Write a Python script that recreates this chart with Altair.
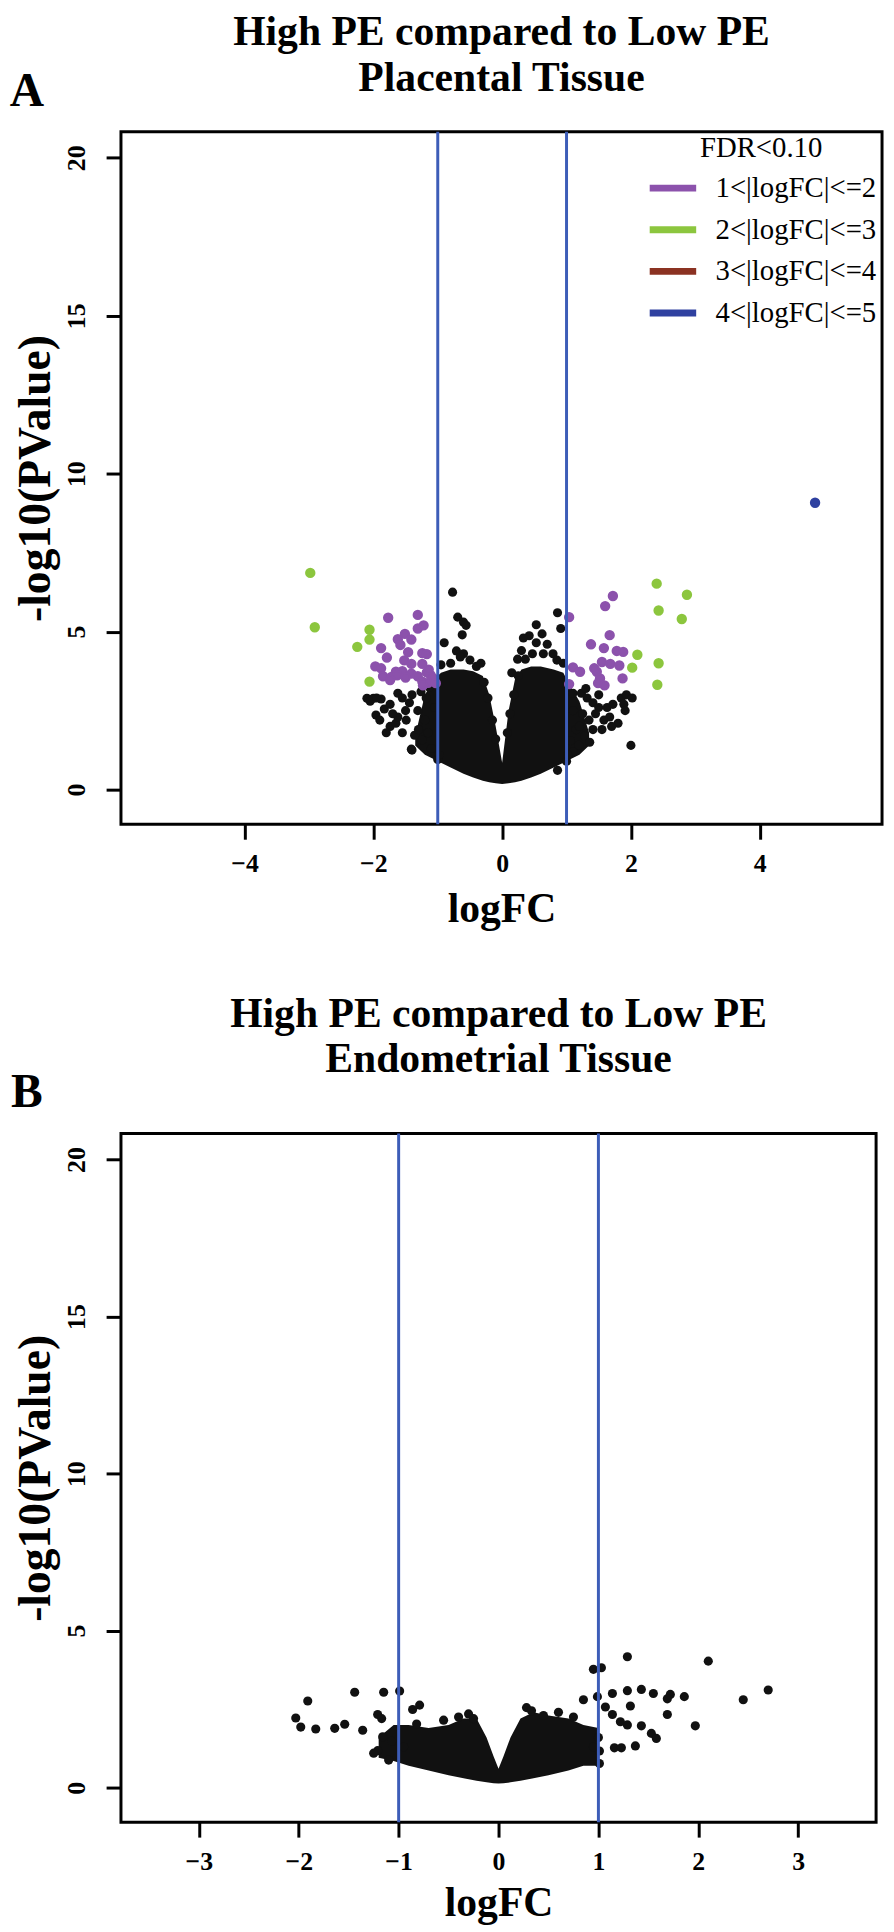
import altair as alt
import pandas as pd

FONT = "Liberation Serif"
CATS = ["1<|logFC|<=2", "2<|logFC|<=3", "3<|logFC|<=4", "4<|logFC|<=5"]
CAT_COLORS = ["#8C52AC", "#8CC63E", "#8B3222", "#2F41A0"]
LINE_BLUE = "#3D5DB8"

# ---------------- Panel A (placental) ----------------
a_purple_x = [-1.77, -1.31, -1.22, -1.31, -1.51, -1.62, -1.41, -1.58, -1.88, -1.46, -1.24, -1.17,
              -1.79, -1.52, -1.41, -1.97, -1.88, -1.24, -1.65, -1.55, -1.85, -1.72, -1.63, -1.41,
              -1.31, -1.17, -1.11, -1.07, -1.24, -1.15, -1.23, -1.03, -1.74, -1.50, -1.14,
              1.04, 1.72, 1.60, 1.67, 1.38, 1.58, 1.78, 1.88, 1.55, 1.68, 1.82, 1.10, 1.47,
              1.52, 1.87, 1.49, 1.59, 1.04, 1.21, 1.43]
a_purple_y = [5.44, 5.53, 5.20, 5.10, 4.93, 4.76, 4.75, 4.58, 4.48, 4.35, 4.32, 4.29,
              4.18, 4.09, 3.98, 3.90, 3.84, 3.98, 3.73, 3.75, 3.59, 3.57, 3.62, 3.67,
              3.59, 3.71, 3.62, 3.52, 3.42, 3.38, 3.30, 3.37, 3.47, 3.55, 3.80,
              5.46, 6.13, 5.81, 4.89, 4.60, 4.48, 4.39, 4.36, 4.04, 3.98, 3.93, 3.87, 3.73,
              3.52, 3.52, 3.37, 3.30, 3.34, 3.73, 3.84]
a_green_x = [-2.98, -2.91, -2.25, -2.06, -2.06, -2.06, 2.40, 2.87, 2.43, 2.79, 2.10, 2.02, 2.43, 2.41]
a_green_y = [6.86, 5.14, 4.52, 5.06, 4.75, 3.42, 6.52, 6.17, 5.67, 5.40, 4.27, 3.86, 4.00, 3.32]
a_blue_x = [4.86]
a_blue_y = [9.08]

a_black_x = [-0.77, -0.69, -0.60, -0.62, -0.56, -0.90, -0.71, -0.60, -0.33, -0.50, -0.80, -0.95, -0.40,
             0.86, 0.91, 0.53, 0.42, 0.33, 0.62, 0.53, 0.47, 0.64, 0.79, 0.24, 0.36, 0.70, 0.85, 0.95, 0.15,
             -2.10, -2.00, -1.88, -1.62, -1.96, -1.83, -1.74, -1.65, -1.55, -1.41, -1.36, -1.24, -1.49,
             -1.31, -1.18, -1.26, -1.13, -1.44, -1.74, -1.62, -1.80, -1.50, -1.40, -1.20, -1.15, -1.30,
             -1.10, -1.05, -1.55, -1.90, -1.70, -2.05, -1.95, -1.40,
             1.10, 1.23, 1.32, 1.41, 1.50, 1.63, 1.67, 1.72, 1.85, 1.93, 2.02, 1.89, 1.91, 1.80, 1.58,
             1.41, 1.28, 1.36, 1.19, 1.06, 1.15, 2.00, 0.86, 1.25, 1.10, 1.35, 1.45, 1.55, 1.70, 1.10,
             1.20, 1.30, 1.50,
             -0.28, -0.22, -0.15, -0.10, 0.08, 0.12, 0.18, 0.25, -1.00, -0.98, 1.00, 1.02, -0.65, 0.30]
a_black_y = [6.25, 5.46, 5.30, 4.90, 5.20, 4.65, 4.39, 4.30, 4.00, 4.10, 4.00, 3.95, 3.90,
             5.60, 5.10, 5.22, 4.87, 4.80, 4.93, 4.65, 4.30, 4.30, 4.30, 4.13, 4.13, 4.60, 4.10, 4.00, 3.70,
             2.89, 2.89, 2.87, 3.05, 2.36, 2.55, 2.00, 2.10, 1.80, 1.28, 1.72, 1.58, 2.20,
             2.50, 2.90, 3.10, 3.24, 2.75, 2.70, 2.30, 1.80, 2.50, 3.00, 2.20, 1.80, 1.90,
             1.30, 2.60, 2.90, 2.20, 2.40, 2.80, 2.90, 1.25,
             3.05, 3.05, 2.90, 2.75, 2.60, 2.60, 2.30, 2.70, 2.90, 3.00, 2.90, 2.70, 2.50, 2.10, 2.20,
             1.90, 1.70, 1.50, 1.40, 1.55, 1.90, 1.40, 0.61, 2.40, 2.50, 2.20, 2.40, 1.90, 2.00, 1.20,
             2.00, 3.20, 3.00,
             3.40, 2.90, 2.20, 1.60, 1.80, 2.40, 3.00, 3.60, 0.95, 1.10, 0.90, 1.10, 4.20, 4.40]

# dense core of the cloud (upper / lower envelope)
a_core_x = [-1.35, -1.2, -1.05, -0.95, -0.8, -0.6, -0.45, -0.3, -0.2, -0.1, 0.0,
            0.1, 0.2, 0.3, 0.45, 0.6, 0.8, 0.95, 1.05, 1.2, 1.35]
a_core_top = [1.7, 3.0, 3.5, 3.7, 3.8, 3.8, 3.75, 3.6, 3.0, 2.0, 0.85,
              2.5, 3.5, 3.8, 3.9, 3.9, 3.8, 3.7, 3.3, 2.8, 1.8]
a_core_bottom = [1.4, 1.1, 0.95, 0.85, 0.7, 0.5, 0.38, 0.28, 0.23, 0.2, 0.18,
                 0.2, 0.23, 0.28, 0.38, 0.5, 0.7, 0.85, 0.95, 1.1, 1.4]

# ---------------- Panel B (endometrial) ----------------
b_black_x = [1.29, 2.10, 0.95, 1.03, 2.70, 2.45, 1.43, 1.29, 1.14, 1.55, 1.72, 1.69, 1.86, 0.99,
             1.32, 1.07, 1.14, 1.22, 1.29, 1.69, 1.97, 1.53, 1.58, 1.43, 1.37, 1.16, 1.23, 1.01, 1.01,
             -2.03, -1.91, -1.83, -1.98, -1.64, -1.54, -1.44, -1.36, -1.15, -0.99, -1.21, -1.17,
             -1.21, -1.10, -0.79, -0.86, -0.82, -1.07, -1.16,
             -0.40, -0.30, -0.25, 0.28, 0.33, 0.45, 0.60, 0.75, 0.85, -0.55, -0.95, 0.95, 1.00, -1.25]
b_black_y = [4.17, 4.03, 3.77, 3.82, 3.11, 2.80, 3.13, 3.09, 3.00, 3.00, 2.97, 2.83, 2.90, 2.90,
             2.60, 2.57, 2.33, 2.10, 2.00, 2.33, 1.97, 1.73, 1.57, 1.97, 1.33, 1.27, 1.27, 1.17, 0.77,
             2.22, 2.76, 1.87, 1.93, 1.89, 2.02, 3.04, 1.83, 3.04, 3.08, 2.33, 2.20,
             1.18, 0.88, 2.63, 2.49, 2.03, 1.48, 1.62,
             2.25, 2.35, 2.20, 2.55, 2.45, 2.30, 2.40, 2.25, 2.80, 2.15, 1.30, 1.30, 1.60, 1.10]
b_core_x = [-1.2, -1.05, -0.9, -0.7, -0.5, -0.35, -0.22, -0.12, -0.05, 0.0, 0.05,
            0.12, 0.22, 0.35, 0.5, 0.7, 0.85, 1.0]
b_core_top = [1.6, 2.0, 2.0, 1.9, 2.0, 2.2, 2.2, 1.6, 1.0, 0.6, 1.0,
              1.6, 2.2, 2.4, 2.3, 2.2, 2.0, 1.9]
b_core_bottom = [0.95, 0.85, 0.7, 0.55, 0.4, 0.3, 0.22, 0.17, 0.14, 0.13, 0.14,
                 0.17, 0.22, 0.3, 0.4, 0.55, 0.7, 0.7]

Y_DOMAIN = [-1.1, 20.83]
Y_TICKS = [0, 5, 10, 15, 20]
THRESH = [-1, 1]


def panel(core_x, core_top, core_bottom, bx, by, colored, x_dom, x_ticks,
          title_lines, letter, letter_y, title_offset, x_title_pad, width, height, legend):
    xs = alt.Scale(domain=x_dom, nice=False, zero=False)
    ys = alt.Scale(domain=Y_DOMAIN, nice=False, zero=False)
    xax = alt.Axis(values=x_ticks, title="logFC", format="d", labelFlush=False,
                   labelPadding=12, titlePadding=x_title_pad)
    yax = alt.Axis(values=Y_TICKS, title="-log10(PValue)", labelAngle=-90, format="d",
                   labelAlign="center", labelBaseline="bottom", labelPadding=17,
                   titlePadding=4, titleFontSize=46)

    core = pd.DataFrame({"x": core_x, "top": core_top, "bottom": core_bottom})
    area = alt.Chart(core).mark_area(color="#111111", interpolate="linear").encode(
        x=alt.X("x:Q", scale=xs, axis=xax),
        y=alt.Y("top:Q", scale=ys, axis=yax),
        y2="bottom:Q",
    )
    blk = pd.DataFrame({"x": bx, "y": by})
    pts = alt.Chart(blk).mark_circle(size=85, opacity=1, color="#111111").encode(
        x=alt.X("x:Q", scale=xs), y=alt.Y("y:Q", scale=ys))
    layers = [area, pts]
    if colored is not None:
        sc = alt.Scale(domain=CATS, range=CAT_COLORS)
        cp = alt.Chart(colored).mark_point(filled=True, size=72, opacity=1, strokeOpacity=1).encode(
            x=alt.X("x:Q", scale=xs),
            y=alt.Y("y:Q", scale=ys),
            fill=alt.Fill("cat:N", scale=sc, legend=legend),
            stroke=alt.Stroke("cat:N", scale=sc, legend=legend),
        )
        layers.append(cp)
    rules = alt.Chart(pd.DataFrame({"x": THRESH})).mark_rule(
        color=LINE_BLUE, strokeWidth=3).encode(x=alt.X("x:Q", scale=xs))
    layers.append(rules)
    lab = alt.Chart(pd.DataFrame({"t": [letter]})).mark_text(
        font=FONT, fontSize=48, fontWeight="bold", color="black", align="center",
        baseline="middle").encode(text="t:N", x=alt.value(-95), y=alt.value(letter_y))
    layers.append(lab)
    return alt.layer(*layers).properties(
        width=width, height=height,
        title=alt.TitleParams(text=title_lines, font=FONT, fontSize=42, fontWeight="bold",
                              lineHeight=46, color="black", anchor="middle", frame="group",
                              offset=title_offset),
    )


colored_a = pd.DataFrame({
    "x": a_purple_x + a_green_x + a_blue_x,
    "y": a_purple_y + a_green_y + a_blue_y,
    "cat": [CATS[0]] * len(a_purple_x) + [CATS[1]] * len(a_green_x) + [CATS[3]] * len(a_blue_x),
})

legend_a = alt.Legend(
    title="FDR<0.10", orient="none", legendX=530, legendY=3,
    symbolType="stroke", symbolSize=2200, symbolStrokeWidth=7,
    labelFont=FONT, labelFontSize=29, labelColor="black", labelOffset=16, labelLimit=400,
    titleFont=FONT, titleFontSize=29, titleFontWeight="normal", titleColor="black",
    titleAnchor="middle", padding=0, rowPadding=-13, titlePadding=-2, titleLimit=400,
)

pa = panel(a_core_x, a_core_top, a_core_bottom, a_black_x, a_black_y, colored_a,
           [-5.92, 5.9], [-4, -2, 0, 2, 4],
           ["High PE compared to Low PE", "Placental Tissue"], "A", -40, -32, 12,
           768, 699, legend_a)
pb = panel(b_core_x, b_core_top, b_core_bottom, b_black_x, b_black_y, None,
           [-3.78, 3.78], [-3, -2, -1, 0, 1, 2, 3],
           ["High PE compared to Low PE", "Endometrial Tissue"], "B", -41, -12, 8,
           762, 695, None)

chart = alt.vconcat(pa, pb, spacing=60).configure_view(
    stroke="black", strokeWidth=3
).configure_axis(
    labelFont=FONT, labelFontSize=26, labelFontWeight="bold", labelColor="black",
    titleFont=FONT, titleFontSize=42, titleFontWeight="bold", titleColor="black",
    tickColor="black", tickWidth=3, tickSize=15, domain=False, grid=False,
).properties(
    background="white",
    padding={"left": 0, "top": -7, "right": 2, "bottom": 2},
)

chart.save("out.html", embed_options={"renderer": "svg", "actions": False})
